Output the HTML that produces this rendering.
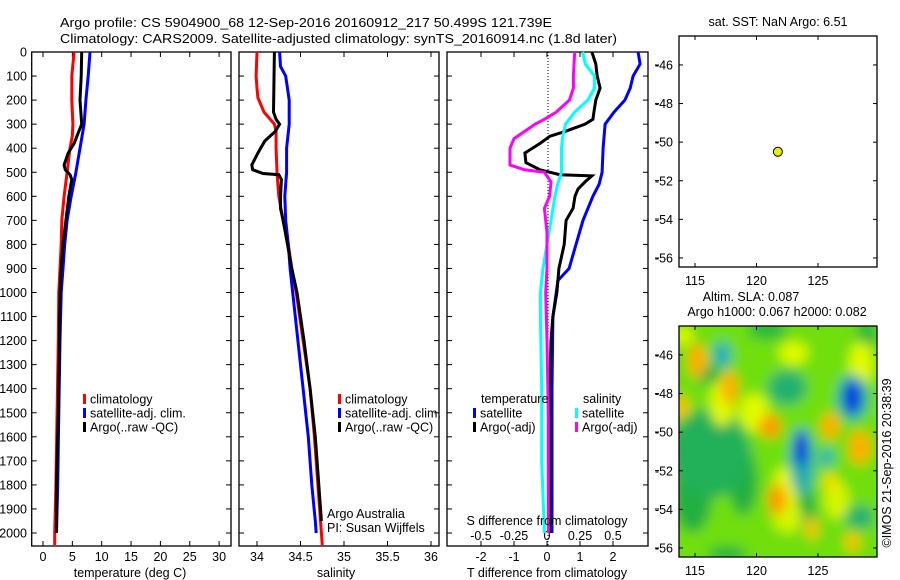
<!DOCTYPE html>
<html><head><meta charset="utf-8"><style>
html,body{margin:0;padding:0;background:#fff;}
svg{display:block;font-family:"Liberation Sans",sans-serif;}
text{fill:#000;}
</style></head><body>
<svg id="fig" width="900" height="580" viewBox="0 0 900 580" xmlns="http://www.w3.org/2000/svg">
<defs>
<filter id="blur" filterUnits="userSpaceOnUse" x="650" y="300" width="260" height="280"><feGaussianBlur stdDeviation="6"/></filter>
<clipPath id="mapclip"><rect x="679" y="326" width="198" height="231"/></clipPath>
</defs>
<text x="60" y="27" font-size="13" textLength="492" lengthAdjust="spacingAndGlyphs">Argo profile: CS 5904900_68 12-Sep-2016 20160912_217 50.499S 121.739E</text>
<text x="60" y="43" font-size="13" textLength="557" lengthAdjust="spacingAndGlyphs">Climatology: CARS2009. Satellite-adjusted climatology: synTS_20160914.nc (1.8d later)</text>
<g id="root"></g>
</svg>
<script>
// ---------- data ----------
const depthTicks=[0,100,200,300,400,500,600,700,800,900,1000,1100,1200,1300,1400,1500,1600,1700,1800,1900,2000];
const tempTicks=[0,5,10,15,20,25,30];
const salTicks=[34,34.5,35,35.5,36];
const salTickLabels=["34","34.5","35","35.5","36"];
const tdiffTicks=[-2,-1,0,1,2];
const sdiffTicks=[-0.5,-0.25,0,0.25,0.5];
const sdiffTickLabels=["-0.5","-0.25","0","0.25","0.5"];
const latTicks=[-46,-48,-50,-52,-54,-56];
const lonTicks=[115,120,125];

const tClimDepth=[0,100,200,300,350,400,500,600,700,800,900,1000,1200,1500,1800,2000,2050];
const tClimVal=[5.3,4.9,4.9,5.1,5.0,4.6,4.1,3.6,3.2,3.1,2.9,2.7,2.6,2.4,2.2,2.0,2.0];
const tSatDepth=[0,100,200,300,400,500,600,700,800,900,1000,1200,1500,1800,2000];
const tSatVal=[8.0,7.7,7.3,7.0,6.3,5.6,4.8,4.1,3.7,3.4,3.1,2.9,2.7,2.5,2.3];
const tArgoDepth=[0,100,200,300,330,380,420,470,490,510,530,600,700,800,900,1000,1200,1500,1800,2000];
const tArgoVal=[6.6,6.5,6.3,6.6,6.1,5.3,4.3,3.6,3.8,4.6,4.9,4.4,3.9,3.4,3.1,2.9,2.8,2.6,2.3,2.3];

const sClimDepth=[0,100,150,190,250,300,330,400,500,600,700,800,900,1000,1200,1400,1600,1800,2000,2050];
const sClimVal=[34.0,33.99,34.0,34.01,34.08,34.2,34.22,34.22,34.23,34.25,34.30,34.36,34.40,34.45,34.53,34.61,34.66,34.70,34.74,34.75];
const sSatDepth=[0,60,100,200,300,400,500,600,700,800,900,1000,1200,1400,1600,1800,1950,2000];
const sSatVal=[34.26,34.27,34.33,34.37,34.37,34.34,34.34,34.32,34.33,34.36,34.38,34.41,34.47,34.53,34.59,34.63,34.67,34.68];
const sArgoDepth=[0,250,280,300,330,370,420,470,490,505,510,530,600,650,700,800,900,1000,1200,1400,1600,1800,1950];
const sArgoVal=[34.2,34.19,34.22,34.26,34.21,34.09,34.01,33.94,33.95,34.07,34.25,34.28,34.27,34.27,34.30,34.35,34.40,34.46,34.54,34.61,34.67,34.71,34.74];

const dTsatDepth=[0,50,100,150,200,250,300,400,500,550,600,700,800,900,950,1100,1400,2000];
const dTsatVal=[2.76,2.82,2.61,2.52,2.36,2.03,1.76,1.70,1.67,1.58,1.39,1.09,0.88,0.67,0.33,0.18,0.15,0.15];
const dTargoDepth=[0,50,100,150,200,250,280,300,330,350,380,420,460,490,510,515,540,570,600,650,700,800,900,1000,1100,1200,1400,2000];
const dTargoVal=[1.36,1.48,1.52,1.61,1.48,1.42,1.39,1.15,0.55,0.09,-0.21,-0.67,-0.64,-0.21,0.39,1.36,1.15,0.94,0.85,0.79,0.58,0.52,0.36,0.30,0.18,0.12,0.09,0.09];
const dSsatDepth=[0,50,100,150,200,250,300,350,400,500,550,600,700,800,900,1000,1100,1400,1700,2000];
const dSsatVal=[0.27,0.29,0.36,0.36,0.31,0.21,0.14,0.12,0.11,0.11,0.08,0.06,0.03,0.0,-0.03,-0.05,-0.05,-0.04,-0.04,-0.02];
const dSargoDepth=[0,100,150,200,250,280,300,330,360,400,470,490,500,540,600,650,750,900,1000,1200,1500,2000];
const dSargoVal=[0.21,0.20,0.20,0.17,0.07,-0.02,-0.09,-0.17,-0.25,-0.28,-0.28,-0.17,-0.02,0.03,0.02,-0.02,0.0,0.0,-0.01,0.0,0.01,0.01];

const argoLon=121.739, argoLat=-50.499;
const blobLon=[116.2,114.8,118.9,128.4,120.9,129.0,123.0,114.0,116.0,124.1,122.5,117.6,122.5,119.8,128.5,122.3,126.5,117.2,117.2,115.2,117.8,113.9,127.8,127.8,121.1,123.7,123.6,126.0,128.4,125.7,121.7,126.0,124.5,127.8];
const blobLat=[-51.1,-53.2,-52.5,-54.4,-44.7,-44.9,-45.9,-45.0,-47.0,-53.9,-54.4,-56.3,-47.7,-49.0,-46.5,-53.0,-53.5,-48.5,-46.0,-46.3,-47.7,-48.7,-48.2,-48.2,-49.7,-51.6,-50.8,-49.7,-50.8,-51.3,-53.5,-52.6,-55.0,-55.7];
const blobVal=[-0.35,-0.3,-0.3,-0.4,-0.25,-0.25,0.45,0.45,-0.3,-0.3,0.4,-0.3,-0.4,0.45,0.45,0.45,0.4,0.45,-0.6,0.8,0.8,0.7,-0.5,-1.0,0.9,-0.55,-1.0,0.8,0.8,-0.6,0.9,0.6,0.7,0.7];
const blobRLon=[3.3,1.6,1.2,1.2,1.6,0.8,1.2,0.8,1.0,0.7,1.2,1.6,1.6,1.2,1.0,1.0,1.0,1.0,0.7,0.75,0.7,0.6,1.3,0.75,0.9,1.0,0.6,0.75,0.9,0.55,0.75,0.6,0.5,0.6];
const blobRLat=[2.3,2.0,1.8,0.6,0.5,0.8,0.6,0.5,0.5,1.0,0.8,0.4,0.9,1.0,1.2,1.2,1.0,1.2,0.7,0.9,0.9,0.6,1.2,0.9,0.6,1.7,1.0,0.7,0.9,0.5,0.8,0.5,0.6,0.5];

// ---------- helpers ----------
const NS="http://www.w3.org/2000/svg";
const root=document.getElementById('root');
function mk(tag,attrs,parent){const e=document.createElementNS(NS,tag);for(const k in attrs)e.setAttribute(k,attrs[k]);(parent||root).appendChild(e);return e;}
function txt(s,x,y,size,anchor,parent){const t=mk('text',{x:x,y:y,'font-size':size,'text-anchor':anchor||'middle'},parent);t.textContent=s;return t;}

const yTop=52,yBot=546,dMax=2054;
const yD=d=>yTop+(d/dMax)*(yBot-yTop);
const p1={l:31.7,r:231,x:v=>43+v*5.87};
const p2={l:239,r:439,x:v=>257+(v-34)*87};
const p3={l:447,r:648,x:v=>547+v*33,xs:v=>547+v*132};

function frame(p,name){
  const r=mk('rect',{x:p.l,y:yTop,width:p.r-p.l,height:yBot-yTop,fill:'none',stroke:'#000','stroke-width':1.3});
  
  
  depthTicks.forEach(d=>{
    const y=yD(d);
    mk('line',{x1:p.l,x2:p.l+5,y1:y,y2:y,stroke:'#000'});
    mk('line',{x1:p.r-5,x2:p.r,y1:y,y2:y,stroke:'#000'});
  });
}
function xticks(p,vals,fx,labels,ly,name,top,bottom){
  const g=mk('g',{});
  
  
  vals.forEach((v,i)=>{
    const x=fx(v);
    if(top) mk('line',{x1:x,x2:x,y1:yTop,y2:yTop+5,stroke:'#000'},g);
    if(bottom) mk('line',{x1:x,x2:x,y1:yBot-5,y2:yBot,stroke:'#000'},g);
    if(labels) txt(labels[i],x,ly,12.5,'middle',g);
  });
}
function line(depths,vals,fx,color,name){
  const pts=depths.map((d,i)=>fx(vals[i]).toFixed(1)+','+yD(d).toFixed(1)).join(' ');
  const pl=mk('polyline',{points:pts,fill:'none',stroke:color,'stroke-width':3,'stroke-linejoin':'miter'});
  
  
}
function legendItem(x,y,color,label,name){
  const g=mk('g',{});
  
  
  mk('rect',{x:x,y:y-5,width:3,height:10,fill:color},g);
  txt(label,x+7,y+4.5,12.5,'start',g);
}

const yl=mk('g',{});


depthTicks.forEach(d=>txt(String(d),27,yD(d)+4.5,12.5,'end',yl));

// panel 1
frame(p1,'temperature-panel');
xticks(p1,tempTicks,p1.x,tempTicks.map(String),561,'temperature-x-ticks',true,true);
line(tClimDepth,tClimVal,p1.x,'#ff0000','temp-climatology-line');
line(tSatDepth,tSatVal,p1.x,'#0000ff','temp-satellite-line');
line(tArgoDepth,tArgoVal,p1.x,'#000000','temp-argo-line');
let t=txt('temperature (deg C)',130,577,12.5);
legendItem(83,399,'#ff0000','climatology','legend-climatology');
legendItem(83,413,'#0000ff','satellite-adj. clim.','legend-satellite-adj');
legendItem(83,427,'#000000','Argo(..raw -QC)','legend-argo');

// panel 2
frame(p2,'salinity-panel');
xticks(p2,salTicks,p2.x,salTickLabels,561,'salinity-x-ticks',true,true);
line(sClimDepth,sClimVal,p2.x,'#ff0000','sal-climatology-line');
line(sSatDepth,sSatVal,p2.x,'#0000ff','sal-satellite-line');
line(sArgoDepth,sArgoVal,p2.x,'#000000','sal-argo-line');
t=txt('salinity',336,577,12.5);
legendItem(338,399,'#ff0000','climatology','legend-sal-climatology');
legendItem(338,413,'#0000ff','satellite-adj. clim.','legend-sal-satellite-adj');
legendItem(338,427,'#000000','Argo(..raw -QC)','legend-sal-argo');
t=txt('Argo Australia',327,518,12.5,'start');
t=txt('PI: Susan Wijffels',327,532,12.5,'start');

// panel 3
frame(p3,'difference-panel');
xticks(p3,tdiffTicks,p3.x,tdiffTicks.map(String),561,'tdiff-x-ticks',true,true);
xticks(p3,sdiffTicks,p3.xs,sdiffTickLabels,540,'sdiff-x-ticks',false,false);
const dl=mk('line',{x1:p3.x(0)+1,x2:p3.x(0)+1,y1:yTop,y2:yBot,stroke:'#000','stroke-dasharray':'1,2'});


line(dTsatDepth,dTsatVal,p3.x,'#0000ff','tdiff-satellite-line');
line(dTargoDepth,dTargoVal,p3.x,'#000000','tdiff-argo-line');
line(dSsatDepth,dSsatVal,p3.xs,'#00ffff','sdiff-satellite-line');
line(dSargoDepth,dSargoVal,p3.xs,'#ff00ff','sdiff-argo-line');
t=txt('S difference from climatology',547,525,12.5);
t=txt('T difference from climatology',547,577,12.5);
t=txt('temperature',481,403,12.5,'start');
t=txt('salinity',583,403,12.5,'start');
legendItem(473,413,'#0000ff','satellite','legend-t-satellite');
legendItem(473,427,'#000000','Argo(-adj)','legend-t-argo');
legendItem(575,413,'#00ffff','satellite','legend-s-satellite');
legendItem(575,427,'#ff00ff','Argo(-adj)','legend-s-argo');
[65,103.6,142,180.6,219,258,355,393.6,432,470.6,509,548].forEach(y=>mk('line',{x1:655,x2:659,y1:y,y2:y,stroke:'#000'}));

// maps
const mapL=679,mapR=877,lon0=113.7,lonK=12.3,latK=19.3;
const mx=lon=>mapL+(lon-lon0)*lonK;
function mapFrame(top,bottom,name,xlabY){
  const my=lat=>top+(-44.5-lat)*latK;
  const r=mk('rect',{x:mapL,y:top,width:mapR-mapL,height:bottom-top,fill:'none',stroke:'#000','stroke-width':1.3});
  
  
  const g=mk('g',{});
  
  
  latTicks.forEach(v=>{const y=my(v);
    mk('line',{x1:mapL,x2:mapL+4,y1:y,y2:y,stroke:'#000'},g);
    mk('line',{x1:mapR-4,x2:mapR,y1:y,y2:y,stroke:'#000'},g);
    txt(String(v),673,y+4.5,12.5,'end',g);});
  lonTicks.forEach(v=>{const x=mx(v);
    mk('line',{x1:x,x2:x,y1:top,y2:top+4,stroke:'#000'},g);
    mk('line',{x1:x,x2:x,y1:bottom-4,y2:bottom,stroke:'#000'},g);
    txt(String(v),x,xlabY,12.5,'middle',g);});
  return my;
}
function cmap(v){
  const st=[[-1,[0,48,224]],[-0.75,[0,160,224]],[-0.5,[32,176,160]],[-0.3,[32,176,64]],[-0.1,[48,200,48]],[0.1,[102,221,17]],[0.3,[187,238,0]],[0.5,[238,255,0]],[0.7,[255,192,0]],[0.9,[255,153,0]]];
  if(v<=st[0][0])return 'rgb('+st[0][1]+')';
  for(let i=1;i<st.length;i++){if(v<=st[i][0]){const a=st[i-1],b=st[i],f=(v-a[0])/(b[0]-a[0]);
    return 'rgb('+a[1].map((c,j)=>Math.round(c+(b[1][j]-c)*f)).join(',')+')';}}
  return 'rgb('+st[st.length-1][1]+')';
}
const heat=mk('g',{'clip-path':'url(#mapclip)'});


const hb=mk('g',{filter:'url(#blur)'},heat);
mk('rect',{x:mapL-20,y:310,width:240,height:270,fill:cmap(0.12)},hb);
const myB=lat=>326+(-44.5-lat)*latK;
const order=blobVal.map((v,i)=>i).sort((a,b)=>Math.abs(blobVal[a])-Math.abs(blobVal[b]));
order.forEach(i=>{
  const e=mk('ellipse',{cx:mx(blobLon[i]),cy:myB(blobLat[i]),rx:blobRLon[i]*lonK,ry:blobRLat[i]*latK,fill:cmap(blobVal[i])},hb);
  
  
});
const myT=mapFrame(36,267,'sst-map',285);
mapFrame(326,557,'sla-map',575);
const dot=mk('circle',{cx:mx(argoLon),cy:myT(argoLat),r:4.5,fill:'#e6f000',stroke:'#000','stroke-width':1});


t=txt('sat. SST: NaN Argo: 6.51',778,26,12.5);
t=txt('Altim. SLA: 0.087',751,301,12.5);
t=txt('Argo h1000: 0.067 h2000: 0.082',777,316,12.5);
t=txt('\u00A9IMOS 21-Sep-2016 20:38:39',0,0,12.5);
t.setAttribute('transform','translate(891,463) rotate(-90)');


</script>
</body></html>
